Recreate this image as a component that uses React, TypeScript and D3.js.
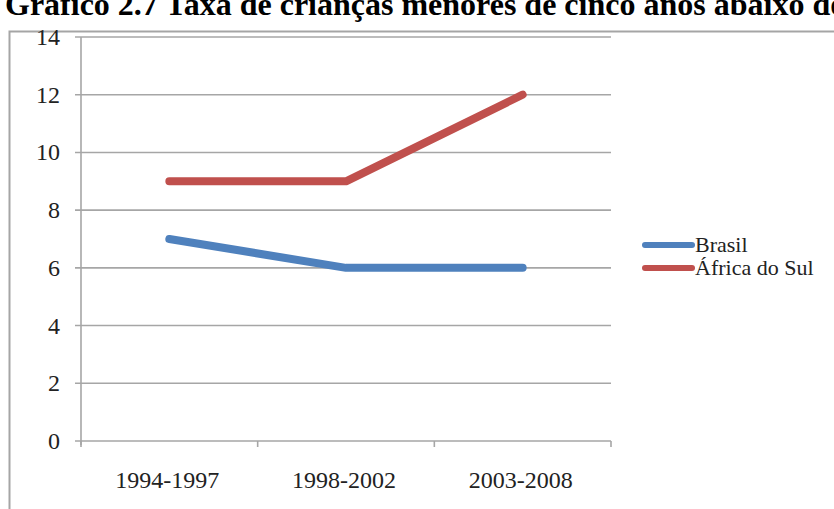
import React from "react";
import * as d3 from "d3";

const periods = ["1994-1997", "1998-2002", "2003-2008"];
const brasil = [7, 6, 6];
const africaDoSul = [9, 9, 12];
const yTicks = [0, 2, 4, 6, 8, 10, 12, 14];
const seriesNames = ["Brasil", "África do Sul"];
const seriesColors = ["#4f81bd", "#c0504d"];
const title = "Gráfico 2.7 Taxa de crianças menores de cinco anos abaixo do peso";

const W = 834;
const H = 509;
const plot = { left: 81, right: 611, top: 37, bottom: 441 };
const font = "'Liberation Serif', 'Times New Roman', serif";
const gridColor = "#a6a6a6";

export default function App() {
  const x = d3.scaleBand<string>().domain(periods).range([plot.left, plot.right]);
  const y = d3.scaleLinear().domain([0, 14]).range([plot.bottom, plot.top]);
  const cx = (p: string) => (x(p) ?? 0) + x.bandwidth() / 2;

  const line = d3
    .line<number>()
    .x((_, i) => cx(periods[i]))
    .y((v) => y(v));

  const series = [brasil, africaDoSul];
  const catEdges = [...periods.map((p) => x(p) ?? 0), plot.right];

  return (
    <svg
      width={W}
      height={H}
      style={{ position: "absolute", left: 0, top: 0, background: "#fff" }}
    >
      <rect x={0} y={0} width={W} height={H} fill="#fff" />
      <text
        x={5}
        y={15}
        fontFamily={font}
        fontWeight="bold"
        fontSize={32}
        fill="#000"
      >
        {title}
      </text>
      {/* chart frame */}
      <rect
        x={9.5}
        y={31.5}
        width={W + 20}
        height={H + 20}
        fill="#fff"
        stroke="#a5a5a5"
        strokeWidth={2}
      />
      {/* horizontal gridlines with left ticks */}
      {yTicks.map((t) => (
        <g key={t}>
          <line
            x1={plot.left - 6}
            x2={plot.right}
            y1={y(t)}
            y2={y(t)}
            stroke={gridColor}
            strokeWidth={1.6}
          />
          <text
            x={60}
            y={y(t)}
            textAnchor="end"
            dominantBaseline="central"
            fontFamily={font}
            fontSize={24}
            fill="#222"
          >
            {t}
          </text>
        </g>
      ))}
      {/* axes */}
      <line
        x1={plot.left}
        x2={plot.left}
        y1={plot.top}
        y2={plot.bottom + 4}
        stroke={gridColor}
        strokeWidth={1.6}
      />
      {catEdges.map((e, i) => (
        <line
          key={i}
          x1={e}
          x2={e}
          y1={plot.bottom}
          y2={plot.bottom + 6}
          stroke={gridColor}
          strokeWidth={1.6}
        />
      ))}
      {periods.map((p) => (
        <text
          key={p}
          x={cx(p) - 2}
          y={488}
          textAnchor="middle"
          fontFamily={font}
          fontSize={24}
          fill="#222"
        >
          {p}
        </text>
      ))}
      {/* series lines */}
      {series.map((s, i) => (
        <path
          key={seriesNames[i]}
          d={line(s) ?? ""}
          fill="none"
          stroke={seriesColors[i]}
          strokeWidth={8}
          strokeLinecap="round"
          strokeLinejoin="round"
        />
      ))}
      {/* legend */}
      {seriesNames.map((n, i) => {
        const ly = 245 + i * 23;
        return (
          <g key={n}>
            <line
              x1={645}
              x2={692}
              y1={ly}
              y2={ly}
              stroke={seriesColors[i]}
              strokeWidth={6}
              strokeLinecap="round"
            />
            <text
              x={695}
              y={ly + 7}
              fontFamily={font}
              fontSize={22}
              fill="#222"
            >
              {n}
            </text>
          </g>
        );
      })}
    </svg>
  );
}
